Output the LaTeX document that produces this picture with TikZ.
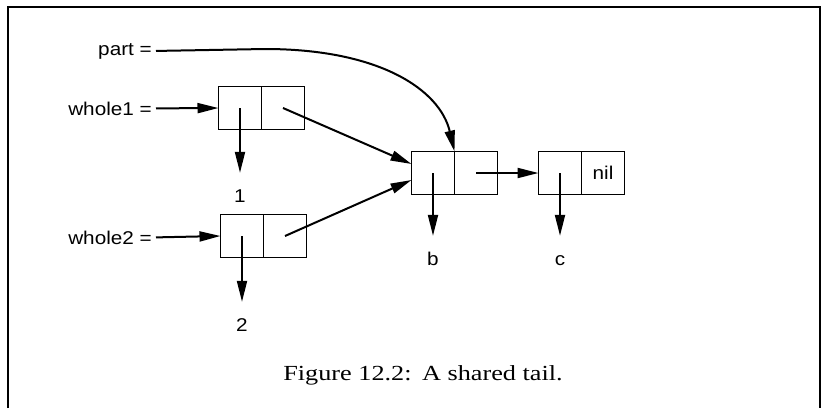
\documentclass[tikz,border=0pt]{standalone}
\usepackage{fontspec}
\setmainfont{Liberation Sans}
\newfontfamily\capfont{Liberation Serif}
\usetikzlibrary{positioning,arrows.meta}
\newcommand{\wlabel}[1]{\scalebox{1.12}[1]{#1}}
\newcommand{\wcaption}[1]{\scalebox{1.22}[1]{#1}}

\begin{document}
\begin{tikzpicture}[x=1pt, y=-1pt,
  cell/.style={rectangle, draw, line width=1.8pt, minimum width=43pt, minimum height=43pt, inner sep=0pt, outer sep=0pt, font=\fontsize{18.5}{22}\selectfont},
  var/.style={inner xsep=4pt, inner ysep=0pt, anchor=base east, font=\fontsize{18.5}{22}\selectfont},
  val/.style={inner sep=0pt, text height=13pt, text depth=0pt, anchor=base, font=\fontsize{18.5}{22}\selectfont},
  ptr/.style={-{Triangle[length=21pt, width=10pt]}, line width=2pt},
  car/.style={ptr, shorten >=16pt},
]
\useasboundingbox (0,0) rectangle (824,408);

% === Frame ===
\draw[line width=1.8pt] (8,408) -- (8,7) -- (820,7) -- (820,408);

% === Variables ===
\node[var] (partvar) at (156,55) {\wlabel{part =}};
\node[var] (wonevar) at (156,115) {\wlabel{whole1 =}};
\node[var] (wtwovar) at (156,244) {\wlabel{whole2 =}};

% === Cons cells ===
\node[cell] (w1car) at (240,108) {};
\node[cell, right=0pt of w1car] (w1cdr) {};
\node[cell] (w2car) at (242,236) {};
\node[cell, right=0pt of w2car] (w2cdr) {};
\node[cell] (bcar) at (433,173) {};
\node[cell, right=0pt of bcar] (bcdr) {};
\node[cell] (ccar) at (560,173) {};
\node[cell, right=0pt of ccar] (ccdr) {\wlabel{nil}};

% === Values ===
\node[val] (one) at (240,202) {\wlabel{1}};
\node[val] (two) at (242,331) {\wlabel{2}};
\node[val] (bval) at (433,265) {\wlabel{b}};
\node[val] (cval) at (560,265) {\wlabel{c}};

% === Pointers ===
\draw[ptr] (wonevar.east) -- (w1car.west);
\draw[ptr] (wtwovar.east) -- (w2car.west);
\draw[ptr] (partvar.east) -- (265,49) .. controls (380,49) and (440,90) .. (bcar.north east);
\draw[ptr] (w1cdr.center) -- ([yshift=9pt]bcar.west);
\draw[ptr] (w2cdr.center) -- ([yshift=-7pt]bcar.west);
\draw[ptr] (bcdr.center) -- (ccar.west);

\draw[car] (w1car.center) -- (one);
\draw[car] (w2car.center) -- (two);
\draw[car] (bcar.center) -- (bval);
\draw[car] (ccar.center) -- (cval);

% === Caption ===
\node[anchor=base, font=\capfont\fontsize{21.5}{26}\selectfont] (caption) at (423,380)
  {\wcaption{Figure 12.2:\hspace{0.4em}A shared tail.}};

\end{tikzpicture}
\end{document}
